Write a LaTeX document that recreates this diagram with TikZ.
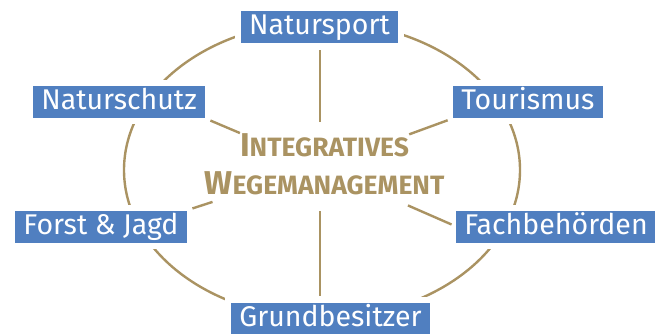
\documentclass[tikz,border=0pt]{standalone}
\usepackage{fontspec}
\setmainfont{Fira Sans}
\usetikzlibrary{positioning,calc}
\definecolor{wegblue}{RGB}{80,127,192}
\definecolor{weggold}{RGB}{170,147,98}
\newcommand{\fakesc}[2]{{\fontsize{33}{38}\selectfont #1}{\fontsize{26.5}{38}\selectfont #2}}

\begin{document}
\begin{tikzpicture}[x=1pt,y=-1pt]
  \tikzset{group/.style={fill=wegblue,text=white,font=\fontsize{28.5}{30}\selectfont,
      inner xsep=8pt,inner ysep=4.5pt,text height=19.5pt,text depth=3.5pt,
      preaction={draw=white,line width=12pt}},
    spoke/.style={draw=weggold,line width=2.4pt}}
  \useasboundingbox (0,0) rectangle (655,334);
  \coordinate (c) at (320,167);
  \draw[weggold,line width=2.4pt] (322,170) ellipse [x radius=198pt,y radius=148pt];
  \node[group] (nsport) at (319.5,27) {Natursport};
  \node[group] (nschutz) at (119,102) {Naturschutz};
  \node[group] (tourism) at (528,102) {Tourismus};
  \node[group] (forst) at (101,226.5) {Forst \& Jagd};
  \node[group] (fach) at (556,226.5) {Fachbehörden};
  \node[group] (grund) at (330.5,318.5) {Grundbesitzer};
  \node[text=weggold,align=center,font=\fontsize{26.5}{38}\selectfont\bfseries] (ctr) at (324.5,164)
    {\fakesc{I}{NTEGRATIVES}\\\fakesc{W}{EGEMANAGEMENT}};
  % spokes
  \draw[spoke,shorten <=45pt,shorten >=7pt] (c) -- (c |- nsport.south);
  \draw[spoke,shorten <=87pt,shorten >=6pt] (c) -- (nschutz.south east);
  \draw[spoke,shorten <=95pt,shorten >=6pt] (c) -- (tourism.south west);
  \draw[spoke,shorten <=113pt,shorten >=6pt] (c) -- (forst.north east);
  \draw[spoke,shorten <=96pt,shorten >=5pt] (c) -- (fach.west);
  \draw[spoke,shorten <=44pt,shorten >=6pt] (c) -- (c |- grund.north);
\end{tikzpicture}
\end{document}
